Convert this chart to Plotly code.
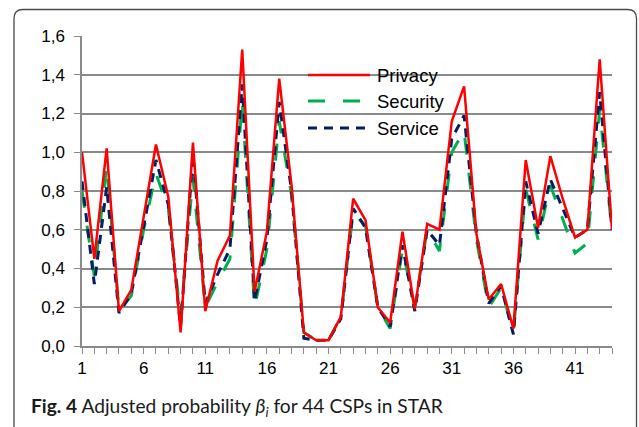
import plotly.graph_objects as go

csp = list(range(1, 45))
privacy = [1.00, 0.45, 1.02, 0.18, 0.29, 0.66, 1.04, 0.77, 0.07, 1.05,
           0.18, 0.44, 0.57, 1.53, 0.28, 0.59, 1.38, 0.83, 0.07, 0.03,
           0.03, 0.15, 0.76, 0.65, 0.20, 0.12, 0.59, 0.19, 0.63, 0.60,
           1.16, 1.34, 0.58, 0.24, 0.32, 0.09, 0.96, 0.61, 0.98, 0.76,
           0.56, 0.60, 1.48, 0.60]
security = [0.80, 0.36, 0.93, 0.18, 0.26, 0.60, 0.89, 0.71, 0.15, 0.87,
            0.20, 0.33, 0.45, 1.26, 0.20, 0.50, 1.16, 0.78, 0.07, 0.03,
            0.03, 0.15, 0.69, 0.62, 0.20, 0.09, 0.50, 0.20, 0.60, 0.49,
            1.00, 1.11, 0.55, 0.20, 0.30, 0.07, 0.81, 0.55, 0.83, 0.65,
            0.48, 0.53, 1.22, 0.59]
service = [0.85, 0.32, 0.82, 0.17, 0.27, 0.62, 0.96, 0.73, 0.10, 0.99,
           0.22, 0.37, 0.50, 1.35, 0.23, 0.55, 1.26, 0.80, 0.04, 0.03,
           0.03, 0.14, 0.71, 0.61, 0.20, 0.10, 0.52, 0.18, 0.60, 0.52,
           1.07, 1.19, 0.58, 0.22, 0.31, 0.06, 0.85, 0.58, 0.86, 0.71,
           0.56, 0.60, 1.31, 0.60]
series_names = ["Privacy", "Security", "Service"]
caption_bold = "Fig. 4"
caption_text = " Adjusted probability <i>β<sub>i</sub></i> for 44 CSPs in STAR"

RED = "#FF0000"
GREEN = "#00B050"
NAVY = "#002060"
GRID = "#8A8A8A"
styles = {
    "Privacy": dict(color=RED, width=2.5, dash="solid"),
    "Security": dict(color=GREEN, width=3, dash="17px,18px"),
    "Service": dict(color=NAVY, width=3, dash="9px,7px"),
}

W, H = 639, 427
L, R, T, B = 82, 27, 36, 81
PW, PH = W - L - R, H - T - B

def px(x):
    return (x - L) / PW

def py(y):
    return (H - B - y) / PH

fig = go.Figure()
for name, vals in [("Security", security), ("Service", service), ("Privacy", privacy)]:
    fig.add_trace(go.Scatter(x=csp, y=vals, mode="lines", name=name,
                             line=styles[name], showlegend=False))

shapes = []
# outer frame (rounded top corners, open at the bottom)
x0, x1, y0, rr = 14, 636.5, 9.5, 9
path = (f"M {px(x0)},{py(440)} L {px(x0)},{py(y0 + rr)} "
        f"Q {px(x0)},{py(y0)} {px(x0 + rr)},{py(y0)} "
        f"L {px(x1 - rr)},{py(y0)} Q {px(x1)},{py(y0)} {px(x1)},{py(y0 + rr)} "
        f"L {px(x1)},{py(440)}")
shapes.append(dict(type="path", xref="paper", yref="paper", path=path,
                   line=dict(color="#4A4A4A", width=1.3), layer="above"))

annotations = []
leg_y = [75, 101, 128]
for name, ly in zip(series_names, leg_y):
    st = styles[name]
    shapes.append(dict(type="line", xref="paper", yref="paper",
                       x0=px(308), x1=px(370), y0=py(ly), y1=py(ly),
                       line=dict(color=st["color"], width=st["width"], dash=st["dash"]),
                       layer="above"))
    annotations.append(dict(text=name, xref="paper", yref="paper",
                            x=px(375), y=py(ly), xanchor="left", yanchor="middle",
                            showarrow=False,
                            font=dict(family="Liberation Sans", size=18.5, color="#000")))

annotations.append(dict(text=f"<b>{caption_bold}</b>{caption_text}",
                        xref="paper", yref="paper", x=px(29), y=py(407),
                        xanchor="left", yanchor="middle", showarrow=False,
                        font=dict(family="Lato", size=19.2, color="#1a1a1a")))

fig.update_layout(
    width=W, height=H,
    margin=dict(l=L, r=R, t=T, b=B, pad=0),
    paper_bgcolor="white", plot_bgcolor="white",
    separators=", ",
    shapes=shapes, annotations=annotations,
    xaxis=dict(range=[1, 44], tickmode="linear", tick0=1, dtick=5,
               ticks="outside", ticklen=6, tickcolor=GRID, tickwidth=1.3,
               minor=dict(dtick=1, tick0=1, ticks="outside", ticklen=6,
                          tickcolor=GRID, tickwidth=1.3, showgrid=False),
               showgrid=False, showline=True, linecolor=GRID, linewidth=1.5,
               zeroline=False,
               tickfont=dict(family="Liberation Sans", size=17, color="#000")),
    yaxis=dict(range=[0, 1.6], tickmode="linear", tick0=0, dtick=0.2,
               tickformat=".1f", ticks="outside", ticklen=6, tickcolor=GRID,
               tickwidth=1.3, showgrid=True, gridcolor=GRID, gridwidth=1.5,
               showline=True, linecolor=GRID, linewidth=1.5, zeroline=False,
               ticklabelstandoff=6,
               tickfont=dict(family="Liberation Sans", size=17, color="#000")),
)

fig.write_html("out.html")
